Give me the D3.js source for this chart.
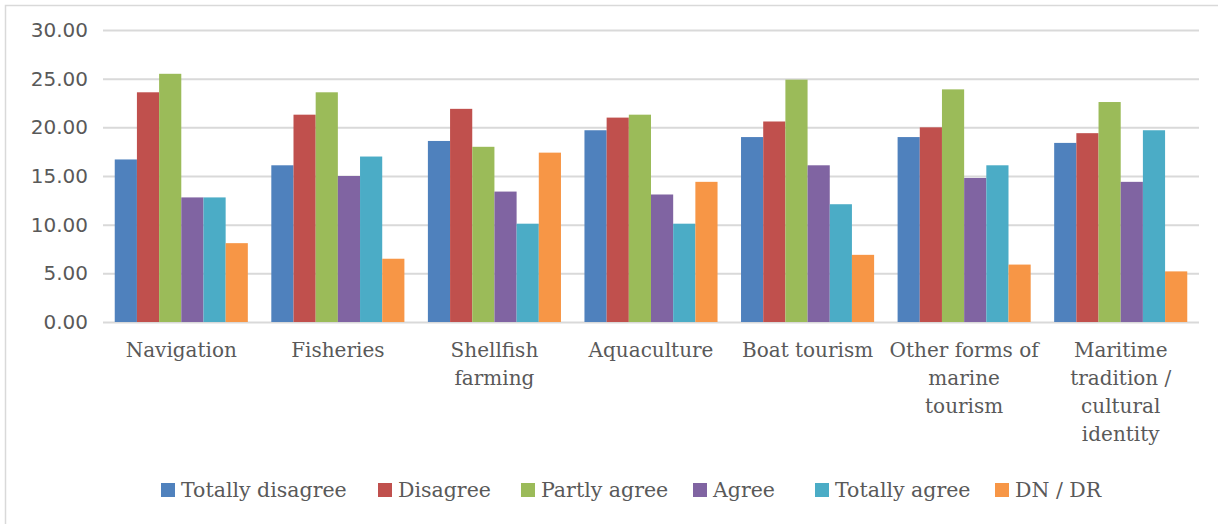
<!DOCTYPE html>
<html>
<head>
<meta charset="utf-8">
<script src="https://cdn.jsdelivr.net/npm/d3@7"></script>
<style>
  html, body { margin: 0; padding: 0; background: #fff; }
  svg { display: block; }
</style>
</head>
<body>
<svg id="chart" width="1218" height="524"></svg>
<script>
// Uses of the sea: share of answers (%) per agreement level
const categories = [
  "Navigation",
  "Fisheries",
  "Shellfish\nfarming",
  "Aquaculture",
  "Boat tourism",
  "Other forms of\nmarine\ntourism",
  "Maritime\ntradition /\ncultural\nidentity"
];
const seriesNames = ["Totally disagree", "Disagree", "Partly agree", "Agree", "Totally agree", "DN / DR"];
const totallyDisagree = [16.7, 16.1, 18.6, 19.7, 19.0, 19.0, 18.4];
const disagree        = [23.6, 21.3, 21.9, 21.0, 20.6, 20.0, 19.4];
const partlyAgree     = [25.5, 23.6, 18.0, 21.3, 24.9, 23.9, 22.6];
const agree           = [12.8, 15.0, 13.4, 13.1, 16.1, 14.8, 14.4];
const totallyAgree    = [12.8, 17.0, 10.1, 10.1, 12.1, 16.1, 19.7];
const dnDr            = [8.1, 6.5, 17.4, 14.4, 6.9, 5.9, 5.2];
const yTicks = [0, 5, 10, 15, 20, 25, 30];
const colors = ["#4F81BD", "#C0504D", "#9BBB59", "#8064A2", "#4BACC6", "#F79646"];

const seriesValues = [totallyDisagree, disagree, partlyAgree, agree, totallyAgree, dnDr];

const svg = d3.select("#chart");
const W = 1218, H = 524;
const plot = { left: 103, right: 1199, top: 30, bottom: 322 };

const labelFont = "'DejaVu Serif', serif";
const textColor = "#595959";

// chart frame
svg.append("rect")
  .attr("x", 5.5).attr("y", 5.5)
  .attr("width", W).attr("height", H)
  .attr("fill", "#fff")
  .attr("stroke", "#d9d9d9").attr("stroke-width", 1.5);

const x0 = d3.scaleBand().domain(d3.range(categories.length))
  .range([plot.left, plot.right]).paddingInner(0.15).paddingOuter(0.075);
const x1 = d3.scaleBand().domain(d3.range(seriesNames.length))
  .range([0, x0.bandwidth()]).padding(0);
const y = d3.scaleLinear().domain([0, 30]).range([plot.bottom, plot.top]);

// y axis with horizontal gridlines
const yAxis = d3.axisLeft(y)
  .tickValues(yTicks)
  .tickFormat(d3.format(".2f"))
  .tickSize(-(plot.right - plot.left))
  .tickPadding(15);

const gy = svg.append("g")
  .attr("transform", `translate(${plot.left},0)`)
  .call(yAxis);
gy.select(".domain").remove();
gy.selectAll(".tick line")
  .attr("stroke", "#d9d9d9").attr("stroke-width", 2);
gy.selectAll(".tick text")
  .attr("fill", textColor)
  .style("font-family", "'DejaVu Sans', sans-serif")
  .style("font-size", "20px");

// bars
const groups = svg.append("g").selectAll("g")
  .data(categories)
  .join("g")
  .attr("transform", (d, i) => `translate(${x0(i)},0)`);

groups.selectAll("rect")
  .data((d, i) => seriesValues.map((s, k) => ({ k, v: s[i] })))
  .join("rect")
  .attr("x", d => x1(d.k))
  .attr("y", d => y(d.v))
  .attr("width", x1.bandwidth())
  .attr("height", d => y(0) - y(d.v))
  .attr("fill", d => colors[d.k]);

// category labels
const catLabels = svg.append("g");
categories.forEach((c, i) => {
  const t = catLabels.append("text")
    .attr("x", x0(i) + x0.bandwidth() / 2)
    .attr("y", 357)
    .attr("text-anchor", "middle")
    .attr("fill", textColor)
    .style("font-family", labelFont)
    .style("font-size", "20px");
  c.split("\n").forEach((line, j) => {
    t.append("tspan")
      .attr("x", x0(i) + x0.bandwidth() / 2)
      .attr("dy", j === 0 ? 0 : 28)
      .text(line);
  });
});

// legend
const legendX = [161, 378, 521, 693, 815, 995];
const legend = svg.append("g");
seriesNames.forEach((name, k) => {
  legend.append("rect")
    .attr("x", legendX[k]).attr("y", 483)
    .attr("width", 14).attr("height", 14)
    .attr("fill", colors[k]);
  legend.append("text")
    .attr("x", legendX[k] + 20).attr("y", 497)
    .attr("fill", textColor)
    .style("font-family", labelFont)
    .style("font-size", "20.5px")
    .text(name);
});
</script>
</body>
</html>
